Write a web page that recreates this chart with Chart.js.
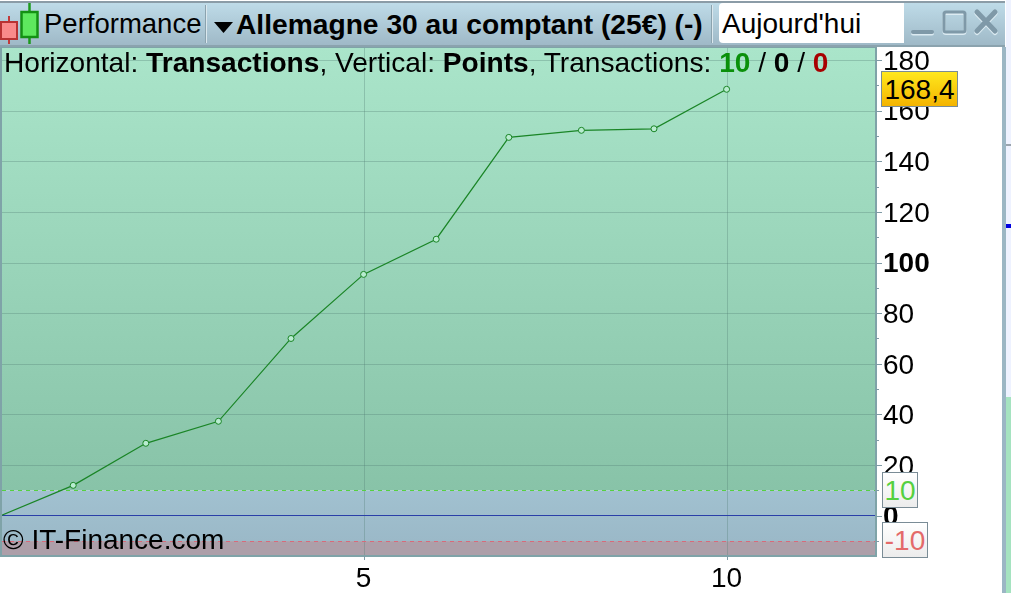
<!DOCTYPE html>
<html lang="fr"><head><meta charset="utf-8"><title>Performance</title>
<script src="https://cdn.jsdelivr.net/npm/chart.js@4/dist/chart.umd.min.js"></script>
<style>
html,body{margin:0;padding:0;background:#fff;overflow:hidden;width:1011px;height:593px}
*{box-sizing:border-box}
body{font-family:"Liberation Sans",Arial,sans-serif;color:#000}
#c{position:absolute;left:0;top:0;width:1011px;height:593px}
.abs{position:absolute;white-space:nowrap}
#bar{left:0;top:1px;width:1005px;height:46px;background:linear-gradient(#bedbe8,#9fb9c7);border-top:2px solid #8b9ca7;border-bottom:2px solid #8ba3ae}
#strip{left:1006px;top:0;width:5px;height:593px;background:#eef2ff}
#edge{left:1002px;top:47px;width:4px;height:546px;background:#9bb6c4}
.sep{top:5px;width:2px;height:38px;background:#dbe8ee;border-left:1px solid #8ba3ae}
.t{font-size:27.5px;line-height:30px}
#inp{left:719px;top:3px;width:185px;height:40px;background:#fff;border-radius:4px 0 0 4px;font-size:28px;line-height:42px;padding-left:3px}
#head{left:4px;top:48px;font-size:28.1px;line-height:30px}
#copy{left:3px;top:525px;font-size:28px;line-height:30px}
.badge{border:1px solid #7a8c96;font-size:28px;line-height:35px;text-align:center}
</style></head><body>
<canvas id="c" width="1011" height="593"></canvas>
<div class="abs" id="strip"></div>
<div class="abs" style="left:1006px;top:144px;width:5px;height:2px;background:#9aa4ae"></div>
<div class="abs" style="left:1006px;top:224px;width:5px;height:4px;background:#0000e0"></div>
<div class="abs" style="left:1006px;top:397px;width:5px;height:196px;background:#a5e3c0"></div>
<div class="abs" id="edge"></div>
<div class="abs" id="bar"></div>
<svg class="abs" style="left:0;top:3px" width="40" height="42">
<line x1="9" y1="13" x2="9" y2="41" stroke="#c23a3a" stroke-width="2"/>
<rect x="1" y="19" width="16" height="17" fill="#f98a8a" stroke="#b83232" stroke-width="2"/>
<line x1="29.5" y1="0" x2="29.5" y2="41" stroke="#1c9a1c" stroke-width="2.5"/>
<rect x="21.5" y="9" width="16" height="25" fill="#5ee85e" stroke="#149014" stroke-width="2.5"/>
</svg>
<div class="abs t" style="left:44px;top:9px">Performance</div>
<div class="abs sep" style="left:205px"></div>
<svg class="abs" style="left:214px;top:22px" width="19" height="11"><path d="M0 0H19L9.5 11Z" fill="#000"/></svg>
<div class="abs t" style="left:236px;top:9px;font-weight:bold;font-size:28.2px">Allemagne 30 au comptant (25€) (-)</div>
<div class="abs sep" style="left:711px"></div>
<div class="abs" id="inp">Aujourd'hui</div>
<svg class="abs" style="left:908px;top:8px" width="92" height="28" fill="none" stroke-linecap="round">
<g stroke="#dcebf2" transform="translate(0,1.5)"><line x1="5" y1="24" x2="24" y2="24" stroke-width="4"/><rect x="36" y="4" width="21" height="20" rx="2" stroke-width="3"/><path d="M69 4L87 23M87 4L69 23" stroke-width="5"/></g>
<g stroke="#7f99a8"><line x1="5" y1="24" x2="24" y2="24" stroke-width="4"/><rect x="36" y="4" width="21" height="20" rx="2" stroke-width="3"/><path d="M69 4L87 23M87 4L69 23" stroke-width="5"/></g>
</svg>
<div class="abs" id="head">Horizontal: <b>Transactions</b>, Vertical: <b>Points</b>, Transactions: <b style="color:#0a900a">10</b> / <b>0</b> / <b style="color:#a80000">0</b></div>
<div class="abs" id="copy">© IT-Finance.com</div>
<div class="abs badge" style="left:881px;top:71px;width:77px;height:36px;background:linear-gradient(#ffe81e,#f4b400)">168,4</div>
<div class="abs badge" style="left:882px;top:472px;width:36px;height:36px;background:linear-gradient(#fff,#ececec);color:#55d040">10</div>
<div class="abs badge" style="left:882px;top:522px;width:46px;height:36px;background:linear-gradient(#fff,#ececec);color:#e46a6a">-10</div>
<script>
const transactions = [0, 1, 2, 3, 4, 5, 6, 7, 8, 9, 10];
const points = [0, 12, 28.6, 37.3, 70, 95.3, 109.2, 149.4, 152.2, 152.8, 168.4];
const upperLevel = 10;
const lowerLevel = -10;
const zeroLevel = 0;
const boldTicks = [0, 100];

const font = '"Liberation Sans", Arial, sans-serif';
const zones = {
  id: 'zones',
  beforeDatasetsDraw(chart) {
    const {ctx, chartArea: a, scales: {y}} = chart;
    const yUp = y.getPixelForValue(upperLevel), yLo = y.getPixelForValue(lowerLevel), yZ = y.getPixelForValue(zeroLevel);
    ctx.save();
    let g = ctx.createLinearGradient(0, a.top, 0, yUp);
    g.addColorStop(0, '#aae5ca'); g.addColorStop(1, '#88c3a8');
    ctx.fillStyle = g; ctx.fillRect(a.left, a.top, a.width, yUp - a.top);
    g = ctx.createLinearGradient(0, yUp, 0, yLo);
    g.addColorStop(0, '#a1c1d0'); g.addColorStop(1, '#9bb9c8');
    ctx.fillStyle = g; ctx.fillRect(a.left, yUp, a.width, yLo - yUp);
    ctx.fillStyle = '#ad9fa9'; ctx.fillRect(a.left, yLo, a.width, a.bottom - yLo);
    // grid
    ctx.strokeStyle = 'rgba(80,125,115,0.32)'; ctx.lineWidth = 1;
    y.ticks.forEach(t => { if (t.value % 20 === 0 && t.value !== 0) {
      const p = Math.round(y.getPixelForValue(t.value)) + .5;
      ctx.beginPath(); ctx.moveTo(a.left, p); ctx.lineTo(a.right, p); ctx.stroke(); }});
    chart.scales.x.ticks.forEach(t => {
      const p = Math.round(chart.scales.x.getPixelForValue(t.value)) + .5;
      ctx.beginPath(); ctx.moveTo(p, a.top); ctx.lineTo(p, a.bottom); ctx.stroke(); });
    // levels
    ctx.setLineDash([4, 4]);
    ctx.strokeStyle = '#55d040'; ctx.beginPath(); ctx.moveTo(a.left, Math.round(yUp)+.5); ctx.lineTo(a.right, Math.round(yUp)+.5); ctx.stroke();
    ctx.strokeStyle = '#d86a7a'; ctx.beginPath(); ctx.moveTo(a.left, Math.round(yLo)+.5); ctx.lineTo(a.right, Math.round(yLo)+.5); ctx.stroke();
    ctx.setLineDash([]);
    ctx.strokeStyle = '#2a3fa8'; ctx.beginPath(); ctx.moveTo(a.left, Math.floor(yZ)+.5); ctx.lineTo(a.right, Math.floor(yZ)+.5); ctx.stroke();
    ctx.restore();
  },
  afterDraw(chart) {
    const {ctx, chartArea: a, scales: {x, y}} = chart;
    ctx.save();
    ctx.strokeStyle = '#7fa3a8'; ctx.lineWidth = 2;
    ctx.strokeRect(a.left - 1, a.top, a.width + 1, a.height);
    ctx.strokeStyle = '#7f9aa5'; ctx.lineWidth = 1;
    y.ticks.forEach(t => {
      const p = Math.round(y.getPixelForValue(t.value)) + .5;
      ctx.beginPath(); ctx.moveTo(a.right, p); ctx.lineTo(a.right + (t.value % 20 === 0 ? 6 : 3), p); ctx.stroke(); });
    x.ticks.forEach(t => {
      const p = Math.round(x.getPixelForValue(t.value)) + .5;
      ctx.beginPath(); ctx.moveTo(p, a.bottom); ctx.lineTo(p, a.bottom + 4); ctx.stroke(); });
    ctx.restore();
  }
};

new Chart(document.getElementById('c'), {
  type: 'line',
  data: { datasets: [{
    data: transactions.map((t, i) => ({x: t, y: points[i]})),
    borderColor: '#1a8526', borderWidth: 1.2, tension: 0,
    pointRadius: c => c.dataIndex === 0 ? 0 : 3,
    pointBackgroundColor: '#b8ecd0', pointBorderColor: '#1a8526', pointBorderWidth: 1
  }]},
  plugins: [zones],
  options: {
    responsive: false, animation: false, devicePixelRatio: 1,
    layout: {autoPadding: false, padding: {top: 47, left: 2, right: 0, bottom: 0}},
    plugins: {legend: {display: false}, tooltip: {enabled: false}, title: {display: false}},
    scales: {
      x: {
        type: 'linear', min: 0.019, max: 12.058, position: 'bottom',
        grid: {display: false, drawTicks: false}, border: {display: false},
        afterFit: s => { s.height = 37; s.paddingLeft = 0; s.paddingRight = 0; },
        ticks: {stepSize: 5, includeBounds: false, autoSkip: false, maxRotation: 0, padding: 6, color: '#000',
                font: {family: font, size: 28}, callback: v => Number.isInteger(v) && v > 0 ? String(v) : ''}
      },
      y: {
        type: 'linear', min: -15.9, max: 185.1, position: 'right',
        grid: {display: false, drawTicks: false}, border: {display: false},
        afterFit: s => { s.width = 135; s.paddingTop = 0; s.paddingBottom = 0; },
        ticks: {stepSize: 10, includeBounds: false, autoSkip: false, padding: 7, labelOffset: 2, color: '#000',
                font: c => ({family: font, size: 28, weight: boldTicks.includes(c.tick && c.tick.value) ? 'bold' : 'normal'}),
                callback: v => (v % 20 === 0 && v >= 0) ? String(v) : ''}
      }
    }
  }
});
</script>
</body></html>
